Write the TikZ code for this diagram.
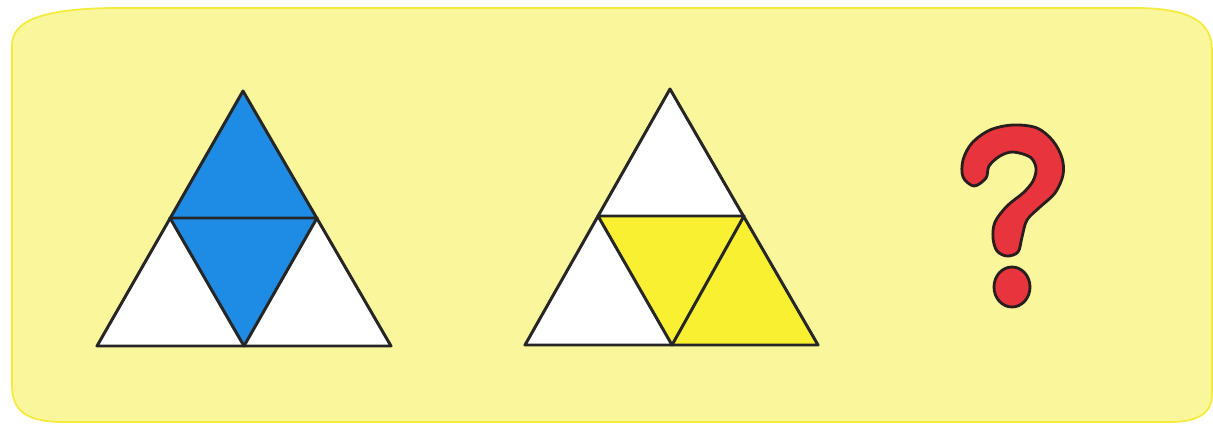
\documentclass[tikz,border=0pt]{standalone}
\definecolor{bgyellow}{RGB}{250,246,155}
\definecolor{bgedge}{RGB}{245,235,60}
\definecolor{tblue}{RGB}{30,140,228}
\definecolor{tyellow}{RGB}{250,240,50}
\definecolor{qred}{RGB}{232,52,60}
\definecolor{qline}{RGB}{40,30,30}
\tikzset{
  piece/.style={draw=black!85, line width=1.7pt, line join=round},
  qmark/.style={fill=qred, draw=qline, line width=1.6pt, line join=round},
}
\begin{document}
\begin{tikzpicture}[x=0.02cm,y=-0.02cm]
\useasboundingbox (0,0) rectangle (1213,426);
% background panel
\filldraw[fill=bgyellow, draw=bgedge, line width=1pt]
  (12,45) .. controls (12,15) and (60,9) .. (110,8) -- (1140,8)
  .. controls (1190,9) and (1212,22) .. (1212,50) -- (1212,395)
  .. controls (1212,415) and (1195,422) .. (1170,422) -- (60,422)
  .. controls (25,421) and (12,410) .. (12,385) -- cycle;
% triangle 1
\coordinate (a1) at (243,91);
\coordinate (l1) at (97,346);
\coordinate (r1) at (391,346);
\coordinate (ml1) at (170,218);
\coordinate (mr1) at (317,218);
\coordinate (mb1) at (244,346);
\fill[white] (l1) -- (r1) -- (a1) -- cycle;
\fill[tblue] (a1) -- (mr1) -- (mb1) -- (ml1) -- cycle;
\draw[piece] (l1) -- (r1) -- (a1) -- cycle;
\draw[piece] (ml1) -- (mr1) -- (mb1) -- cycle;
% triangle 2
\coordinate (a2) at (670,89);
\coordinate (l2) at (525,345);
\coordinate (r2) at (818,345);
\coordinate (ml2) at (598,216);
\coordinate (mr2) at (744,216);
\coordinate (mb2) at (672,345);
\fill[white] (l2) -- (r2) -- (a2) -- cycle;
\fill[tyellow] (ml2) -- (mr2) -- (r2) -- (mb2) -- cycle;
\draw[piece] (l2) -- (r2) -- (a2) -- cycle;
\draw[piece] (ml2) -- (mr2) -- (mb2) -- cycle;
% question mark
\path[qmark]
  plot[smooth cycle, tension=0.55] coordinates {
   (963,160) (972,143) (990,130) (1013,125) (1037,128) (1053,141) (1062,158)
   (1063,175) (1055,193) (1040,207) (1027,220) (1022,237) (1018,252)
   (1007,256) (997,251) (993,238) (995,222) (1007,206) (1023,193)
   (1033,181) (1036,168) (1030,157) (1013,152) (1000,156) (989,166)
   (986,178) (974,186) (963,177)};
\path[qmark] (1012,287) ellipse [x radius=18, y radius=20];
\end{tikzpicture}
\end{document}
